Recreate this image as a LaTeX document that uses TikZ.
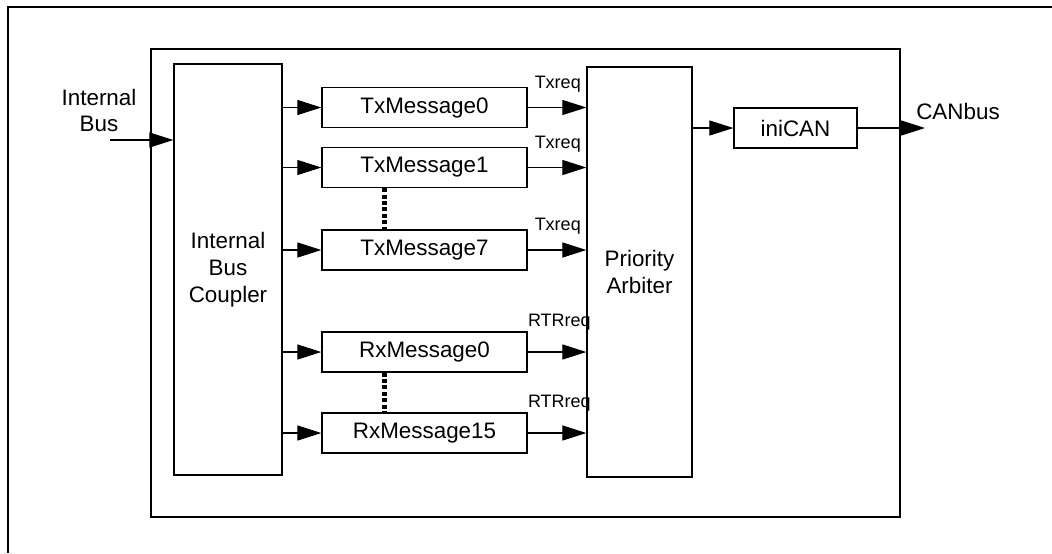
\documentclass[tikz,border=0pt]{standalone}
\usepackage{fontspec}
\setmainfont{Liberation Sans}
\usetikzlibrary{arrows.meta}

\tikzset{
  blk/.style={draw, line width=0.65pt, inner sep=0pt, font=\fontsize{11.2}{13.5}\selectfont},
  msgbox/.style={blk, minimum width=102.5pt, minimum height=20pt},
  arr/.style={line width=0.6pt, -{Triangle[length=12pt, width=7.5pt]}},
  req/.style={inner sep=0pt, font=\fontsize{9}{10}\selectfont},
  lbl/.style={inner sep=0pt, align=center, font=\fontsize{11.2}{13}\selectfont},
  dots/.style={line width=2.2pt, dash pattern=on 2pt off 1.2pt}
}

\begin{document}
\begin{tikzpicture}[x=0.5pt, y=-0.5pt]
  \useasboundingbox (0,0) rectangle (1052,553);
  % frame and container
  \draw[line width=1pt] (8,553) -- (8,7) -- (1052,7);
  \draw[line width=0.75pt] (151,49) rectangle (900,517);

  % main blocks
  \node[blk, minimum width=54pt, minimum height=205.5pt, align=center] (coupler) at (228,269.5) {Internal\\Bus\\Coupler};
  \node[blk, minimum width=52.5pt, minimum height=205pt, align=center] (arb) at (639.5,272) {Priority\\Arbiter};
  \node[blk, minimum width=61.5pt, minimum height=20pt] (ini) at (795.5,128) {iniCAN};

  % message buffers
  \node[msgbox] (tx0) at (424.5,107.5) {TxMessage0};
  \node[msgbox] (tx1) at (424.5,167.5) {TxMessage1};
  \node[msgbox] (tx7) at (424.5,250) {TxMessage7};
  \node[msgbox] (rx0) at (424.5,352) {RxMessage0};
  \node[msgbox] (rx15) at (424.5,433) {RxMessage15};

  % bus in and out
  \node[lbl] (inlbl) at (99,110) {Internal\\Bus};
  \coordinate (busin) at (110,140);
  \draw[arr] (busin) -- (coupler.west |- busin);
  \coordinate (busout) at (925,128);
  \node[lbl] (canlbl) at (958,111) {CANbus};

  \foreach \m in {tx0,tx1,tx7,rx0,rx15}
    \draw[arr] (\m.west -| coupler.east) -- (\m.west);
  \foreach \m in {tx0,tx1,tx7}
    \draw[arr] (\m.east) -- (\m.east -| arb.west)
      node[pos=1, anchor=south east, req, xshift=-2.5pt, yshift=7.5pt] {Txreq};
  \foreach \m in {rx0,rx15}
    \draw[arr] (\m.east) -- (\m.east -| arb.west)
      node[pos=1, anchor=south east, req, xshift=2.5pt, yshift=10.5pt] {RTRreq};

  \draw[arr] (arb.east |- ini) -- (ini.west);
  \draw[arr] (ini.east) -- (busout);

  % skipped buffers
  \draw[dots] ([xshift=-20pt]tx1.south) -- ([xshift=-20pt]tx7.north);
  \draw[dots] ([xshift=-20pt]rx0.south) -- ([xshift=-20pt]rx15.north);
\end{tikzpicture}
\end{document}
